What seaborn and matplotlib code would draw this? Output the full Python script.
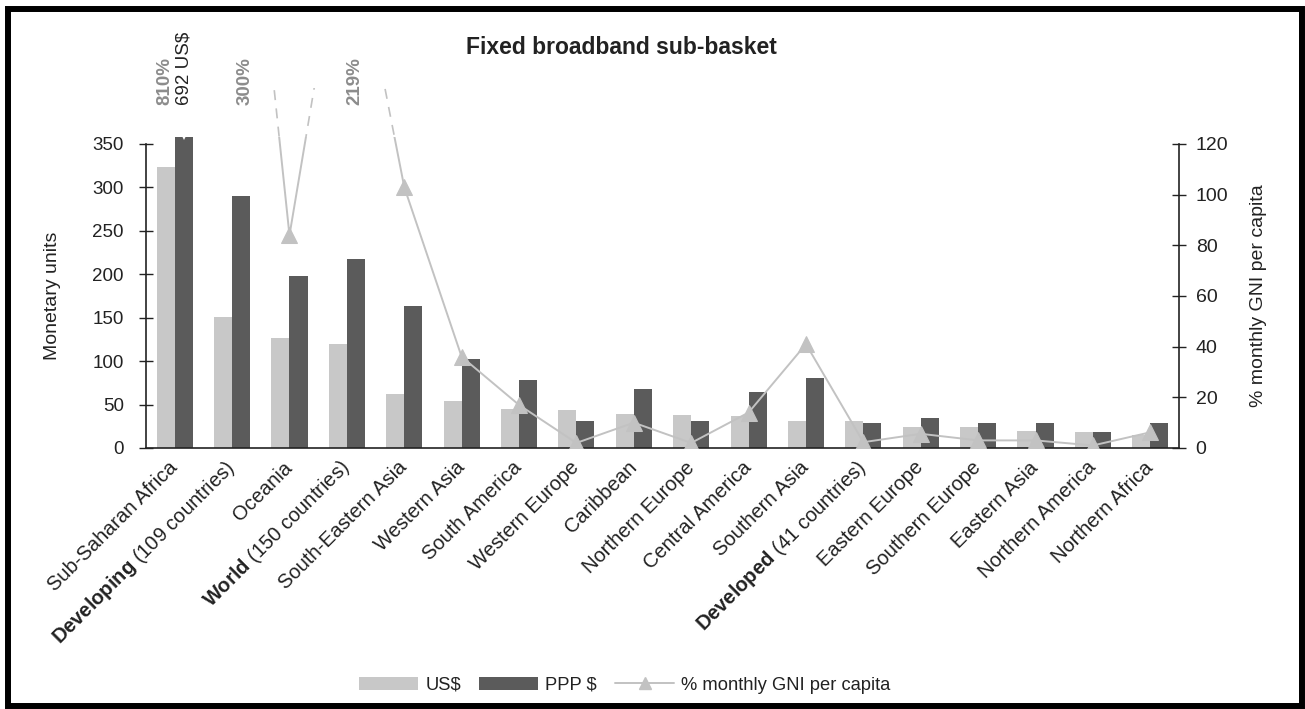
import numpy as np
import pandas as pd
import matplotlib
matplotlib.use("Agg")
import matplotlib.pyplot as plt
from matplotlib.patches import Rectangle, Patch
from matplotlib.lines import Line2D
from matplotlib.ticker import FixedLocator
import seaborn as sns

# ---------------- data ----------------
categories = ["Sub-Saharan Africa", "Developing (109 countries)", "Oceania",
              "World (150 countries)", "South-Eastern Asia", "Western Asia",
              "South America", "Western Europe", "Caribbean", "Northern Europe",
              "Central America", "Southern Asia", "Developed (41 countries)",
              "Eastern Europe", "Southern Europe", "Eastern Asia",
              "Northern America", "Northern Africa"]
tick_labels = ["Sub-Saharan Africa", r"$\mathbf{Developing}$ (109 countries)", "Oceania",
               r"$\mathbf{World}$ (150 countries)", "South-Eastern Asia", "Western Asia",
               "South America", "Western Europe", "Caribbean", "Northern Europe",
               "Central America", "Southern Asia", r"$\mathbf{Developed}$ (41 countries)",
               "Eastern Europe", "Southern Europe", "Eastern Asia",
               "Northern America", "Northern Africa"]
usd = [323, 151, 127, 120, 62, 54, 45, 44, 39, 38, 37, 31, 31, 24, 24, 20, 18, 15]
ppp = [692, 290, 198, 218, 164, 102, 78, 31, 68, 31, 64, 81, 29, 34, 29, 29, 18, 29]
gni = [810, 300, 84, 219, 103, 36, 17, 2, 10, 2, 14, 41, 2.3, 5.6, 3, 3, 1, 6.2]
off_chart_labels = ["810%", "300%", "219%"]
off_chart_idx = [0, 1, 3]
usd_note = "692 US$"

# ---------------- style ----------------
sns.set_style("white")
plt.rcParams['font.family'] = ['Liberation Sans', 'DejaVu Sans']
plt.rcParams['mathtext.fontset'] = 'custom'
plt.rcParams['mathtext.rm'] = 'Liberation Sans'
plt.rcParams['mathtext.bf'] = 'Liberation Sans:bold'

C_USD = "#c8c8c8"
C_PPP = "#5b5b5b"
C_LINE = "#c2c2c2"
AX_C = "#222222"

W, H = 1305, 709
fig = plt.figure(figsize=(W / 100, H / 100), dpi=100)
ax = fig.add_axes([146 / W, 1 - 448 / H, 1033 / W, 304 / H])

df = pd.DataFrame({
    "category": categories * 2,
    "currency": ["US$"] * len(categories) + ["PPP $"] * len(categories),
    "value": usd + ppp,
})
sns.barplot(data=df, x="category", y="value", hue="currency",
            palette={"US$": C_USD, "PPP $": C_PPP}, width=0.63,
            saturation=1, linewidth=0, legend=False, ax=ax)

n = len(categories)
ax.set_xlim(-0.5, n - 0.5)
ax.set_ylim(0, 350)
ax.set_yticks(np.arange(0, 351, 50))
ax.set_xlabel("")
ax.set_ylabel("Monetary units", fontsize=14, color=AX_C)
ax.yaxis.set_label_coords(-0.082, 0.5)

# clip the tall bar a little above the axis and add a break notch
for p in ax.patches:
    if p.get_height() > 350:
        p.set_clip_path(Rectangle((-1, 0), n + 2, 358, transform=ax.transData))
        cx = p.get_x() + p.get_width() / 2
        ax.plot([cx], [358], marker="v", color="white", markersize=5,
                clip_on=False, zorder=5, markeredgewidth=0)

# x ticks: labels at centers, tick marks at boundaries
ax.set_xticks(np.arange(n))
ax.set_xticklabels(tick_labels, rotation=45, ha="right", va="center",
                   rotation_mode="anchor", fontsize=14.5, color=AX_C)
ax.xaxis.set_minor_locator(FixedLocator(np.arange(-0.5, n, 1.0)))
ax.tick_params(axis="x", which="major", length=0, pad=12)
ax.tick_params(axis="x", which="minor", length=10, width=1, direction="inout", color=AX_C)
ax.tick_params(axis="y", length=10, width=1, direction="inout", color=AX_C,
               labelsize=13.5, labelcolor=AX_C, pad=11)

for s in ["top", "right"]:
    ax.spines[s].set_visible(False)
for s in ["left", "bottom"]:
    ax.spines[s].set_color(AX_C)
    ax.spines[s].set_linewidth(1.2)

# secondary axis: % of monthly GNI per capita
ax2 = ax.twinx()
sns.lineplot(x=np.arange(n), y=gni, ax=ax2, color=C_LINE, linewidth=1.4,
             marker="^", markersize=11, markeredgecolor=C_LINE,
             markerfacecolor=C_LINE)
ax2.set_ylim(0, 120)
ax2.set_yticks(np.arange(0, 121, 20))
ax2.set_ylabel("% monthly GNI per capita", fontsize=14, color=AX_C)
ax2.yaxis.set_label_coords(1.069, 0.5)
ax2.tick_params(axis="y", length=10, width=1, direction="inout", color=AX_C,
                labelsize=14, labelcolor=AX_C, pad=7)
for s in ["top", "left", "bottom"]:
    ax2.spines[s].set_visible(False)
ax2.spines["right"].set_color(AX_C)
ax2.spines["right"].set_linewidth(1.2)
ax2.set_xlim(-0.5, n - 0.5)

main_line = ax2.lines[0]
main_line.set_clip_path(Rectangle((-1, 0), n + 2, 122.8, transform=ax2.transData))
dash_line, = ax2.plot(np.arange(n), gni, color=C_LINE, linewidth=1.2,
                      linestyle=(0, (6, 5)))
dash_line.set_clip_path(Rectangle((-1, 122.8), n + 2, 19.5, transform=ax2.transData))

# off-chart value labels
label_dx = [-0.17, 0.22, 0.14]
for lab, i, dx in zip(off_chart_labels, off_chart_idx, label_dx):
    ax.text(i + dx, 395, lab, rotation=90, ha="center", va="bottom",
            fontsize=13.5, fontweight="bold", color="#8c8c8c", clip_on=False)
ax.text(0.16, 395, usd_note, rotation=90, ha="center", va="bottom",
        fontsize=13.5, color="#222222", clip_on=False)

# title
fig.text(621 / W, 1 - 47 / H, "Fixed broadband sub-basket", ha="center",
         va="center", fontsize=16.5, fontweight="bold", color=AX_C)

# legend
handles = [Patch(facecolor=C_USD, edgecolor="none"),
           Patch(facecolor=C_PPP, edgecolor="none"),
           Line2D([0], [0], color=C_LINE, lw=1.4, marker="^", markersize=9,
                  markerfacecolor=C_LINE, markeredgecolor=C_LINE)]
fig.legend(handles, ["US$", "PPP $", "% monthly GNI per capita"],
           loc="center", bbox_to_anchor=(625 / W, 1 - 685 / H), ncol=3,
           frameon=False, fontsize=13.2, handlelength=3.2, handleheight=0.7,
           handletextpad=0.4, columnspacing=1.0, labelcolor=AX_C)

# outer frame
fig.patches.append(Rectangle((8 / W, 3 / H), (1302 - 8) / W, (706 - 9) / H,
                             transform=fig.transFigure, fill=False,
                             edgecolor="black", linewidth=4.3, zorder=10))

fig.savefig("out.png", dpi=100)
